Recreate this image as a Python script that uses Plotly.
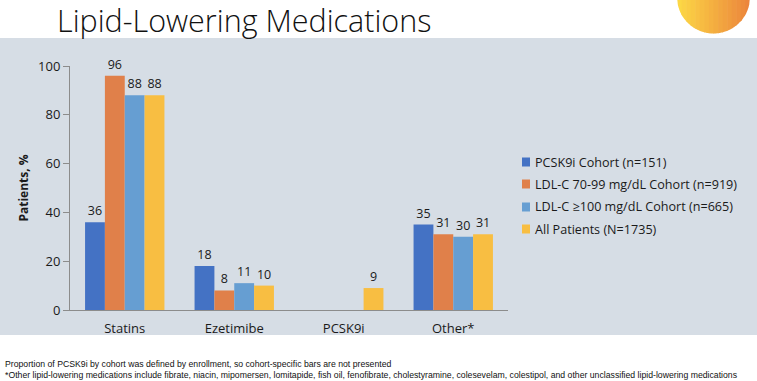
import math
import plotly.graph_objects as go

categories = ["Statins", "Ezetimibe", "PCSK9i", "Other*"]
series_names = [
    "PCSK9i Cohort (n=151)",
    "LDL-C 70-99 mg/dL Cohort (n=919)",
    "LDL-C \u2265100 mg/dL Cohort (n=665)",
    "All Patients (N=1735)",
]
pcsk9i_cohort = [36, 18, None, 35]
ldl_70_99 = [96, 8, None, 31]
ldl_100 = [88, 11, None, 30]
all_patients = [88, 10, 9, 31]
y_ticks = [0, 20, 40, 60, 80, 100]

colors = ["#4472C4", "#E0804A", "#669ED2", "#F8BE42"]
series_values = [pcsk9i_cohort, ldl_70_99, ldl_100, all_patients]

W, H = 757, 381
L, R, T, B = 70, 508, 66, 310
pw, ph = R - L, B - T

def px(x):
    return (x - L) / pw

def py(y):
    return (B - y) / ph

font_main = "Open Sans"
fig = go.Figure()
for name, vals, c in zip(series_names, series_values, colors):
    fig.add_trace(go.Bar(
        x=categories, y=vals, name=name, marker_color=c,
        marker_line_width=0,
        text=[("" if v is None else str(v)) for v in vals],
        textposition="outside", cliponaxis=False,
        textfont=dict(family=font_main, size=12.5, color="#1a1a1a"),
        showlegend=False, hoverinfo="skip",
    ))

fig.update_layout(
    width=W, height=H,
    margin=dict(l=L, r=W - R, t=T, b=H - B, pad=0),
    paper_bgcolor="white", plot_bgcolor="rgba(0,0,0,0)",
    barmode="group", bargap=0.275, bargroupgap=0,
    showlegend=False,
    font=dict(family=font_main, color="#1a1a1a"),
)
fig.update_yaxes(range=[0, 100], tickvals=y_ticks, showgrid=False,
                 showline=True, linecolor="#8c8c8c", linewidth=1,
                 ticks="outside", ticklen=6, tickcolor="#8c8c8c",
                 tickfont=dict(family=font_main, size=13, color="#1a1a1a"),
                 title=dict(text="<b>Patients, %</b>", standoff=6,
                            font=dict(family=font_main, size=12, color="#1a1a1a")),
                 zeroline=False)
fig.update_xaxes(showgrid=False, showline=True, linecolor="#8c8c8c", linewidth=1,
                 ticks="", ticklabelstandoff=6,
                 tickfont=dict(family=font_main, size=13, color="#1a1a1a"))

# grey slide band
fig.add_shape(type="rect", xref="paper", yref="paper", layer="below",
              x0=px(0), x1=px(W), y0=py(335), y1=py(38),
              fillcolor="#D6DDE5", line_width=0)

# logo circle with left-to-right yellow->orange gradient (decoration)
cx, cy, rr = 713.5, -3.0, 36.5
c0, c1 = (253, 218, 70), (236, 132, 60)
n = 16
for i in range(n):
    xa = cx - rr + 2 * rr * i / n
    xb = cx - rr + 2 * rr * (i + 1) / n + 0.6
    xb = min(xb, cx + rr)
    pts_top, pts_bot = [], []
    steps = 6
    for k in range(steps + 1):
        xx = xa + (xb - xa) * k / steps
        dy = math.sqrt(max(rr * rr - (xx - cx) ** 2, 0))
        pts_top.append((xx, cy - dy))
        pts_bot.append((xx, cy + dy))
    pts = pts_bot + pts_top[::-1]
    path = "M " + " L ".join(f"{px(a):.5f},{py(b):.5f}" for a, b in pts) + " Z"
    t = (i + 0.5) / n
    col = "rgb({},{},{})".format(*[int(c0[j] + (c1[j] - c0[j]) * t) for j in range(3)])
    fig.add_shape(type="path", xref="paper", yref="paper", layer="below",
                  path=path, fillcolor=col, line_width=0)

# legend drawn manually
leg_y = [162, 184, 207, 229]
for name, c, yy in zip(series_names, colors, leg_y):
    fig.add_shape(type="rect", xref="paper", yref="paper",
                  x0=px(522), x1=px(530), y0=py(yy + 4.5), y1=py(yy - 4.5),
                  fillcolor=c, line_width=0)
    fig.add_annotation(text=name, xref="paper", yref="paper",
                       x=px(533), y=py(yy), xanchor="left", yanchor="middle",
                       showarrow=False,
                       font=dict(family=font_main, size=12.6, color="#1a1a1a"))

fig.add_annotation(text="Lipid-Lowering Medications", xref="paper", yref="paper",
                   x=px(55), y=py(20), xanchor="left", yanchor="middle",
                   showarrow=False,
                   font=dict(family=font_main, size=30.5, color="#111111", weight=300))
foot = "Liberation Sans"
fig.add_annotation(text="Proportion of PCSK9i by cohort was defined by enrollment, so cohort-specific bars are not presented",
                   xref="paper", yref="paper", x=px(3), y=py(364), xanchor="left",
                   yanchor="middle", showarrow=False,
                   font=dict(family=foot, size=8.7, color="#111111"))
fig.add_annotation(text="*Other lipid-lowering medications include fibrate, niacin, mipomersen, lomitapide, fish oil, fenofibrate, cholestyramine, colesevelam, colestipol, and other unclassified lipid-lowering medications",
                   xref="paper", yref="paper", x=px(3), y=py(375), xanchor="left",
                   yanchor="middle", showarrow=False,
                   font=dict(family=foot, size=8.7, color="#111111"))

fig.write_html("out.html", config={"displayModeBar": False},
               post_script="document.body.style.margin='0';")
